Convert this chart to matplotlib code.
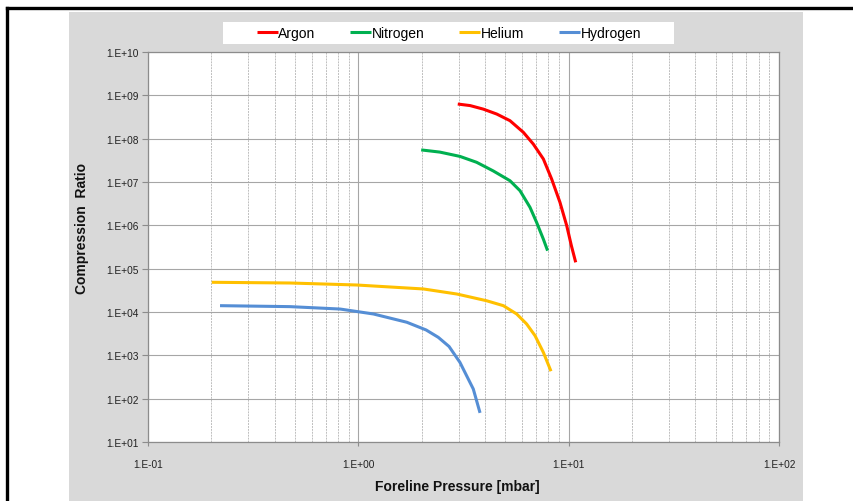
import matplotlib
matplotlib.use("Agg")
import matplotlib.pyplot as plt
from matplotlib.lines import Line2D
from matplotlib.patches import Rectangle
from matplotlib.ticker import LogLocator, NullFormatter, FixedLocator

plt.rcParams['font.family'] = ['Liberation Sans', 'DejaVu Sans']

# ---- data ----
argon_p = [2.97, 3.40, 3.93, 4.55, 5.26, 6.09, 6.79, 7.58, 8.30, 9.09, 9.79, 10.3, 10.8]
argon_k = [6.3e8, 5.8e8, 4.8e8, 3.7e8, 2.6e8, 1.4e8, 7.5e7, 3.4e7, 1.17e7, 3.4e6, 9.8e5, 3.4e5, 1.4e5]

nitrogen_p = [1.99, 2.44, 3.04, 3.65, 4.38, 5.26, 5.87, 6.55, 7.04, 7.58, 7.94]
nitrogen_k = [5.5e7, 4.9e7, 3.9e7, 2.85e7, 1.8e7, 1.07e7, 6.3e6, 2.6e6, 1.17e6, 4.8e5, 2.6e5]

helium_p = [0.201, 0.473, 0.98, 2.04, 2.94, 4.07, 4.89, 5.66, 6.31, 6.92, 7.58, 8.24]
helium_k = [4.85e4, 4.67e4, 4.2e4, 3.4e4, 2.6e4, 1.82e4, 1.4e4, 9.0e3, 5.3e3, 2.84e3, 1.17e3, 4.3e2]

hydrogen_p = [0.22, 0.473, 0.82, 1.18, 1.70, 2.10, 2.40, 2.70, 3.04, 3.52, 3.79]
hydrogen_k = [1.4e4, 1.33e4, 1.17e4, 9.0e3, 5.8e3, 3.85e3, 2.6e3, 1.6e3, 6.9e2, 1.67e2, 47]

series_names = ["Argon", "Nitrogen", "Helium", "Hydrogen"]
series_colors = ["#FF0000", "#00B050", "#FFC000", "#558ED5"]

x_ticks = [0.1, 1, 10, 100]
x_tick_labels = ["1.E-01", "1.E+00", "1.E+01", "1.E+02"]
y_ticks = [10.0**e for e in range(1, 11)]
y_tick_labels = ["1.E+%02d" % e for e in range(1, 11)]

W, H = 854, 502
fig = plt.figure(figsize=(W / 100, H / 100), dpi=100)
fig.patch.set_facecolor("white")

# grey chart area
fig.add_artist(Rectangle((69 / W, 0), 734 / W, (H - 13) / H, transform=fig.transFigure,
                         facecolor="#D9D9D9", edgecolor="none", zorder=0))
# legend white box
fig.add_artist(Rectangle((223 / W, 1 - 45 / H), (674 - 223) / W, 22 / H, transform=fig.transFigure,
                         facecolor="white", edgecolor="none", zorder=1))
# black frame lines
fig.add_artist(Line2D([7 / W, 7 / W], [0, 1 - 9 / H], transform=fig.transFigure,
                      color="black", lw=2.4, zorder=1))
fig.add_artist(Line2D([7 / W, 1], [1 - 9 / H, 1 - 9 / H], transform=fig.transFigure,
                      color="black", lw=2.4, zorder=1))

ax = fig.add_axes([148 / W, 1 - 443 / H, (779 - 148) / W, (443 - 53) / H])
ax.set_facecolor("white")
ax.set_xscale("log")
ax.set_yscale("log")
ax.set_xlim(0.1, 100)
ax.set_ylim(10, 1e10)

ax.xaxis.set_major_locator(FixedLocator(x_ticks))
ax.set_xticklabels(x_tick_labels)
ax.xaxis.set_minor_locator(LogLocator(base=10, subs=range(2, 10)))
ax.xaxis.set_minor_formatter(NullFormatter())
ax.yaxis.set_major_locator(FixedLocator(y_ticks))
ax.set_yticklabels(y_tick_labels)
ax.yaxis.set_minor_locator(FixedLocator([]))

ax.grid(True, which="major", axis="both", color="#A6A6A6", lw=0.8)
ax.grid(True, which="minor", axis="x", color="#BFBFBF", lw=0.7, linestyle=(0, (2, 1)))
ax.set_axisbelow(True)

for s in ax.spines.values():
    s.set_color("#8C8C8C")
    s.set_linewidth(0.9)

ax.tick_params(axis="y", which="major", length=4, width=0.8, color="#8C8C8C",
               labelsize=7.3, pad=3, labelcolor="#222222")
ax.tick_params(axis="x", which="major", length=3, width=0.8, color="#8C8C8C",
               labelsize=7.3, pad=9, labelcolor="#222222")
ax.tick_params(axis="x", which="minor", length=0)

data = [(argon_p, argon_k), (nitrogen_p, nitrogen_k), (helium_p, helium_k), (hydrogen_p, hydrogen_k)]
handles = []
for (p, k), name, c in zip(data, series_names, series_colors):
    ln, = ax.plot(p, k, color=c, lw=2.2, label=name, solid_capstyle="butt",
                  solid_joinstyle="round")
    handles.append(ln)

leg = fig.legend(handles=handles, labels=series_names, ncol=4,
                 loc="center", bbox_to_anchor=(449 / W, 1 - 34 / H),
                 frameon=False, fontsize=10, handlelength=1.5, handletextpad=0.05,
                 columnspacing=2.5, borderpad=0.2)

fig.text(82 / W, 1 - 229 / H, "Compression  Ratio", rotation=90, ha="center", va="center",
         fontsize=10, fontweight="bold", color="#111111")
fig.text(457 / W, 1 - 487 / H, "Foreline Pressure [mbar]", ha="center", va="center",
         fontsize=10, fontweight="bold", color="#111111")

fig.savefig("out.png", dpi=100)
